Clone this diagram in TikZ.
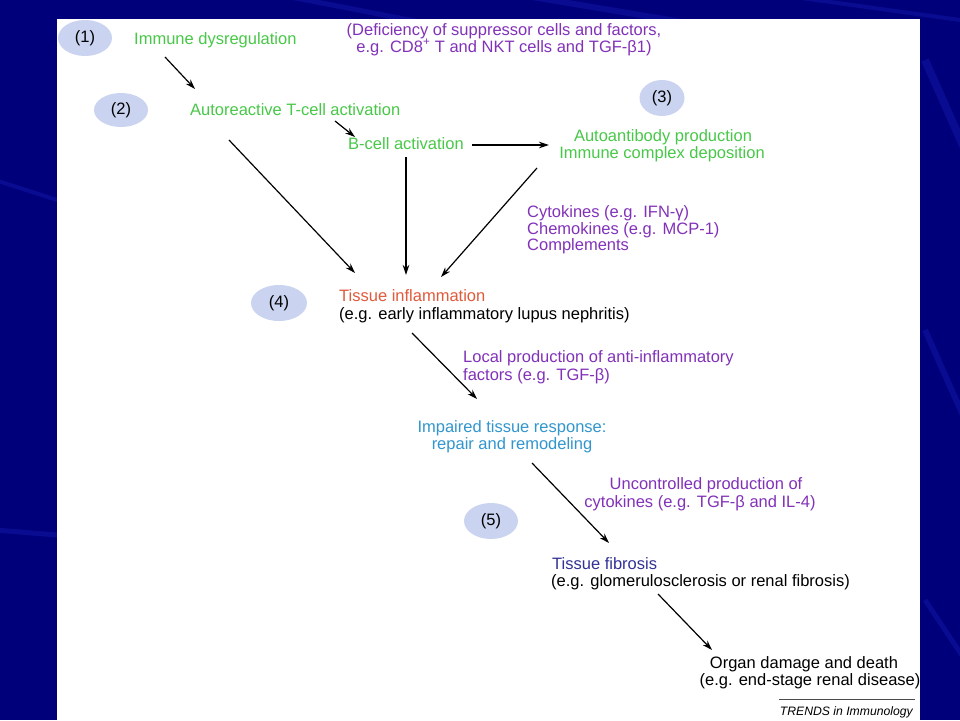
\documentclass[tikz,border=0pt]{standalone}
\usepackage{fontspec}
\setmainfont{Liberation Sans}
\usetikzlibrary{arrows.meta,shapes.geometric}
\definecolor{navy}{RGB}{0,0,122}
\definecolor{streak}{RGB}{30,40,200}
\definecolor{panelgreen}{RGB}{72,200,72}
\definecolor{panelpurple}{RGB}{130,50,185}
\definecolor{panelred}{RGB}{224,90,60}
\definecolor{panelcyan}{RGB}{50,150,205}
\definecolor{paneldblue}{RGB}{50,50,150}
\definecolor{ellfill}{RGB}{202,212,240}
\tikzset{
  txt/.style={inner sep=0pt, font=\fontsize{16.5}{17.5}\selectfont},
  lt/.style={txt, anchor=base west},
  ct/.style={txt, anchor=base},
  num/.style={ellipse, fill=ellfill, inner sep=0pt, txt, text=black},
  arr/.style={draw=black, line width=1.2pt, -{Stealth[length=10pt,width=6.5pt]}},
}
\begin{document}
\begin{tikzpicture}[x=1pt,y=-1pt]
\useasboundingbox (0,0) rectangle (960,720);
% background
\fill[navy] (0,0) rectangle (960,720);
\begin{scope}[opacity=0.3]
\draw[streak, line width=6pt] (520,-5) -- (700,25);
\draw[streak, line width=4pt] (780,-5) -- (960,20);
\draw[streak, line width=5pt] (280,-5) -- (420,22);
\draw[streak, line width=8pt] (925,60) -- (965,150);
\draw[streak, line width=6pt] (925,330) -- (965,420);
\draw[streak, line width=5pt] (925,600) -- (965,660);
\draw[streak, line width=5pt] (-5,530) -- (57,535);
\draw[streak, line width=4pt] (-5,180) -- (57,200);
\end{scope}
% panel
\fill[white] (57,19) rectangle (920,720);
% numbered ellipses
\node[num, minimum width=54pt, minimum height=36pt] (e1) at (85,38) {(1)};
\node[num, minimum width=54pt, minimum height=34pt] (e2) at (121,110) {(2)};
\node[num, minimum width=45pt, minimum height=36pt] (e3) at (662,98) {(3)};
\node[num, minimum width=56pt, minimum height=36pt] (e4) at (279,303) {(4)};
\node[num, minimum width=54pt, minimum height=36pt] (e5) at (491,521) {(5)};
% texts
\node[lt, text=panelgreen] (t1) at (134,44) {Immune dysregulation};
\node[ct, text=panelpurple] (d1) at (504,35) {(Deficiency of suppressor cells and factors,};
\node[ct, text=panelpurple] (d2) at (504,52) {e.g. CD8\textsuperscript{+} T and NKT cells and TGF-β1)};
\node[lt, text=panelgreen] (t2) at (190,115) {Autoreactive T-cell activation};
\node[lt, text=panelgreen] (t3) at (348,149) {B-cell activation};
\node[ct, text=panelgreen] (t4a) at (663,141) {Autoantibody production};
\node[ct, text=panelgreen] (t4b) at (662,158) {Immune complex deposition};
\node[lt, text=panelpurple] (c1) at (527,217) {Cytokines (e.g. IFN-γ)};
\node[lt, text=panelpurple] (c2) at (527,234) {Chemokines (e.g. MCP-1)};
\node[lt, text=panelpurple] (c3) at (527,250) {Complements};
\node[lt, text=panelred] (ti1) at (339,301) {Tissue inflammation};
\node[lt, text=black] (ti2) at (339,319) {(e.g. early inflammatory lupus nephritis)};
\node[lt, text=panelpurple] (l1) at (463,362) {Local production of anti-inflammatory};
\node[lt, text=panelpurple] (l2) at (463,380) {factors (e.g. TGF-β)};
\node[ct, text=panelcyan] (im1) at (512,432) {Impaired tissue response:};
\node[ct, text=panelcyan] (im2) at (512,449) {repair and remodeling};
\node[ct, text=panelpurple] (u1) at (706,489) {Uncontrolled production of};
\node[ct, text=panelpurple] (u2) at (700,507) {cytokines (e.g. TGF-β and IL-4)};
\node[lt, text=paneldblue] (f1) at (552,569) {Tissue fibrosis};
\node[lt, text=black] (f2) at (551,586) {(e.g. glomerulosclerosis or renal fibrosis)};
\node[ct, text=black] (o1) at (804,668) {Organ damage and death};
\node[ct, text=black] (o2) at (810,685) {(e.g. end-stage renal disease)};
\node[inner sep=0pt, anchor=base east, font=\fontsize{12.2}{13}\selectfont\itshape] (tr) at (913,715) {TRENDS in Immunology};
\coordinate (rl) at (779,699);
\coordinate (rr) at (915,699);
\draw[line width=0.8pt, black!70] (rl) -- (rr);
% arrow end points
\coordinate (a1s) at (165,57);  \coordinate (a1e) at (195,89);
\coordinate (a2s) at (335,121); \coordinate (a2e) at (355,137);
\coordinate (a3s) at (472,145); \coordinate (a3e) at (549,145);
\coordinate (a4s) at (229,140); \coordinate (a4e) at (355,273);
\coordinate (a5s) at (406,157); \coordinate (a5e) at (406,275);
\coordinate (a6s) at (537,168); \coordinate (a6e) at (441,277);
\coordinate (a7s) at (412,333); \coordinate (a7e) at (477,399);
\coordinate (a8s) at (532,463); \coordinate (a8e) at (609,543);
\coordinate (a9s) at (658,594); \coordinate (a9e) at (712,650);
\draw[arr] (a1s) -- (a1e);
\draw[arr] (a2s) -- (a2e);
\draw[arr] (a3s) -- (a3e);
\draw[arr] (a4s) -- (a4e);
\draw[arr] (a5s) -- (a5e);
\draw[arr] (a6s) -- (a6e);
\draw[arr] (a7s) -- (a7e);
\draw[arr] (a8s) -- (a8e);
\draw[arr] (a9s) -- (a9e);
\end{tikzpicture}
\end{document}
